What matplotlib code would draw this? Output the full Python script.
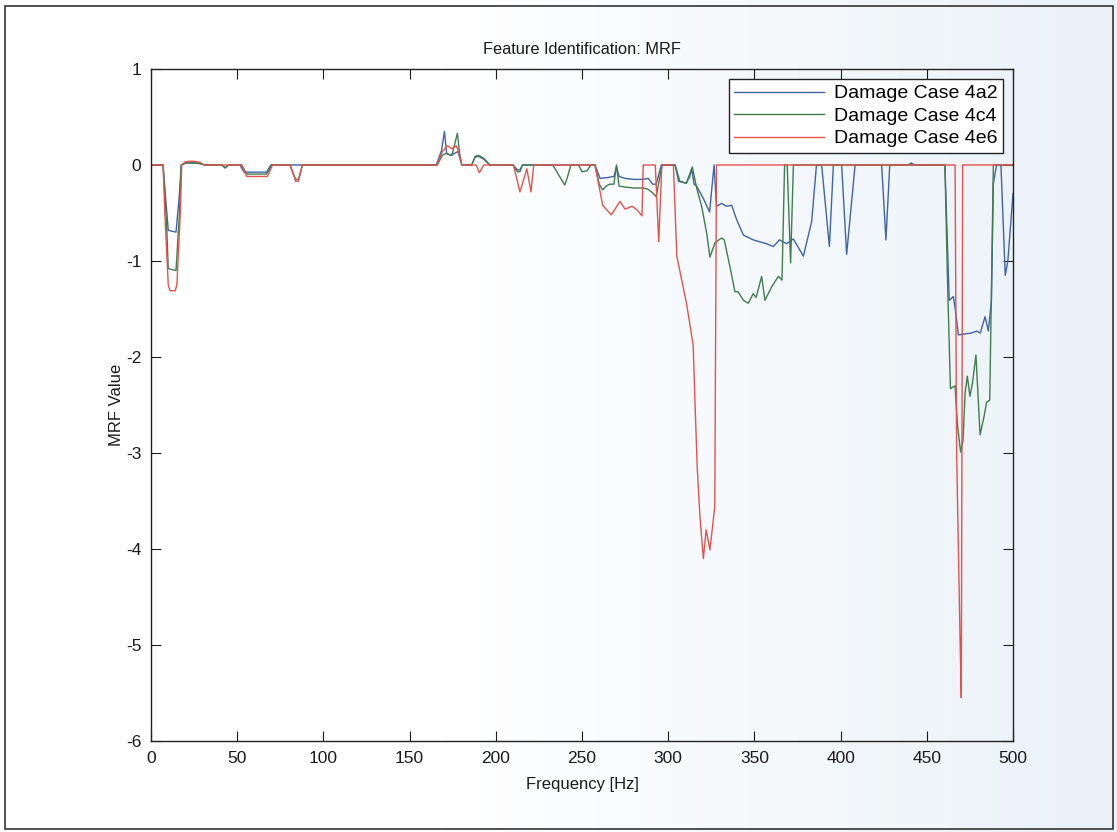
import numpy as np
import matplotlib
matplotlib.use("Agg")
import matplotlib.pyplot as plt
from matplotlib.patches import Rectangle

# MRF curves, (frequency [Hz], MRF value) pairs per damage case
case_4a2 = [
    (0, 0), (7, 0), (8.5, -0.35), (10, -0.68), (14.5, -0.70), (16.5, -0.30), (17.5, 0),
    (20, 0.02), (23, 0.025), (28, 0.02), (31, 0), (41, 0), (43, -0.03), (45, 0),
    (51.5, 0), (54, -0.075), (67, -0.075), (69.5, 0),
    (165.5, 0), (168.5, 0.15), (170.2, 0.35), (171.5, 0.12), (174, 0.10), (176, 0.12),
    (178, 0.14), (180.3, 0), (186, 0), (188, 0.08), (190, 0.09), (193, 0.06), (196.5, 0),
    (210, 0), (212.5, -0.05), (214, -0.05), (215.5, 0),
    (257.5, 0), (260.5, -0.14), (265, -0.13), (268.5, -0.12), (270, -0.02), (271.5, -0.12),
    (275, -0.14), (280, -0.15), (285, -0.15), (288.5, -0.14), (291, -0.20), (293, -0.20),
    (296, 0), (304, 0), (306, -0.17), (310.5, -0.19), (312.5, -0.12), (313.6, -0.04),
    (315, -0.20), (316.5, -0.22), (320.4, -0.35), (324, -0.49), (326.6, 0), (328, -0.43),
    (331, -0.40), (333.7, -0.43), (336.8, -0.42), (339.7, -0.57), (343.6, -0.73),
    (349.3, -0.78), (353, -0.80), (357, -0.82), (361, -0.85), (364.5, -0.78), (368.7, -0.82),
    (372.6, -0.77), (378.4, -0.95), (383.2, -0.59), (386, 0), (389, 0), (393.5, -0.85),
    (395.8, 0), (400.6, 0), (403.5, -0.93), (408.4, 0), (423.8, 0), (426.3, -0.78),
    (428.5, 0), (439, 0), (441, 0.02), (443, 0), (460.5, 0), (463, -1.41), (465.4, -1.37),
    (466.5, -1.50), (468.3, -1.77), (472, -1.76), (476, -1.75), (479, -1.73), (481, -1.75),
    (483.8, -1.58), (485.7, -1.73), (487.5, -1.41), (488.6, -0.19), (490.5, 0), (493, 0),
    (495.5, -1.15), (497, -1.00), (500, -0.30),
]

case_4c4 = [
    (0, 0), (7, 0), (9, -0.60), (10, -1.08), (14.5, -1.10), (16.5, -0.50), (17.5, 0),
    (20, 0.02), (23, 0.02), (28, 0.015), (31, 0), (41, 0), (43, -0.03), (45, 0),
    (52.6, 0), (55.5, -0.095), (67, -0.095), (70, 0), (80.6, 0), (83.9, -0.15),
    (85.5, -0.15), (87.8, 0), (166, 0), (169, 0.10), (171, 0.12), (174.5, 0.10),
    (177.7, 0.33), (179, 0.12), (180.3, 0), (186, 0), (188, 0.09), (190, 0.10), (193, 0.07),
    (196.5, 0), (210, 0), (212.5, -0.07), (214, -0.07), (215.5, 0), (233, 0), (238, -0.15),
    (240, -0.21), (242, -0.10), (243.5, 0), (248, 0), (250, -0.07), (253, -0.06), (255, 0),
    (257.5, 0), (260, -0.20), (262, -0.26), (264, -0.22), (266, -0.20), (268.5, -0.20),
    (270, 0), (271.5, -0.22), (275, -0.23), (280, -0.24), (285, -0.24), (288, -0.25),
    (291, -0.29), (293, -0.33), (296.5, 0), (304, 0), (306.8, -0.17), (310.5, -0.19),
    (314, -0.02), (316.5, -0.24), (319.4, -0.43), (322.3, -0.71), (324.2, -0.96),
    (327.1, -0.81), (331, -0.76), (332.5, -0.78), (335.8, -1.06), (338.7, -1.32),
    (340.5, -1.32), (343.6, -1.41), (346.5, -1.44), (349.3, -1.34), (351, -1.38),
    (354.2, -1.16), (356.1, -1.41), (360, -1.27), (363.9, -1.16), (366, -1.20), (367.5, 0),
    (369, 0), (371, -1.02), (372.6, 0), (460.5, 0), (462, -1.20), (463.7, -2.33),
    (466.4, -2.30), (467.7, -2.69), (469.6, -2.99), (471, -2.87), (472.2, -2.38),
    (473.5, -2.20), (475, -2.41), (476.5, -2.27), (478.5, -1.98), (480.9, -2.81),
    (483.2, -2.62), (484.7, -2.47), (486.5, -2.45), (488.6, 0), (500, 0),
]

case_4e6 = [
    (0, 0), (7, 0), (8, -0.50), (10, -1.25), (11, -1.31), (14, -1.31), (15, -1.25),
    (17, -0.50), (17.8, 0), (20, 0.035), (24, 0.04), (28, 0.03), (31, 0), (52.6, 0),
    (55.5, -0.12), (67.5, -0.12), (70.5, 0), (80.6, 0), (83.9, -0.17), (85.5, -0.17),
    (87.8, 0), (166, 0), (169, 0.14), (172, 0.20), (174.4, 0.17), (177, 0.20), (178.5, 0.14),
    (180.3, 0), (188.6, 0), (190.5, -0.08), (193, 0), (210.2, 0), (214, -0.28), (218, -0.04),
    (220.4, -0.28), (222, 0), (257.5, 0), (262, -0.42), (265, -0.48), (267, -0.52),
    (272, -0.38), (275, -0.46), (279, -0.43), (282, -0.47), (284.8, -0.53), (285.5, 0),
    (292.5, 0), (294.5, -0.80), (296.3, 0), (303, 0), (305, -0.95), (310.7, -1.45),
    (314.5, -1.88), (315.5, -2.45), (316.8, -3.14), (318.4, -3.66), (320.4, -4.10),
    (322, -3.80), (324.2, -4.01), (327, -3.56), (328, 0), (466.4, 0), (467.3, -3.00),
    (469.3, -4.95), (470, -5.55), (470.8, 0), (500, 0),
]

series_labels = ["Damage Case 4a2", "Damage Case 4c4", "Damage Case 4e6"]
series_colors = ["#3f63a6", "#3f7d4c", "#e5524c"]
x_ticks = [0, 50, 100, 150, 200, 250, 300, 350, 400, 450, 500]
y_ticks = [1, 0, -1, -2, -3, -4, -5, -6]

plt.rcParams["font.family"] = ["Liberation Sans", "DejaVu Sans"]

fig = plt.figure(figsize=(11.17, 8.32), dpi=100)

# page tint: white on the left fading to a pale blue-grey on the right
bg = fig.add_axes([0, 0, 1, 1], zorder=-10)
t = np.clip((np.linspace(0, 1, 512) - 0.40) / 0.55, 0, 1)
c0 = np.array([1.0, 1.0, 1.0])
c1 = np.array([0.925, 0.952, 0.972])
grad = (c0[None, :] * (1 - t[:, None]) + c1[None, :] * t[:, None])[None, :, :]
bg.imshow(grad, aspect="auto", extent=[0, 1, 0, 1])
bg.set_axis_off()

# outer figure frame
fig.patches.append(Rectangle((0.0045, 0.004), 0.992, 0.989, transform=fig.transFigure,
                             fill=False, edgecolor="#333333", linewidth=1.2))

ax = fig.add_axes([0.1352, 0.1094, 0.7717, 0.8077])
ax.set_facecolor("none")

for data, lab, col in zip([case_4a2, case_4c4, case_4e6], series_labels, series_colors):
    f, v = np.array(data).T
    ax.plot(f, v, color=col, linewidth=1.0, label=lab)

ax.set_xlim(0, 500)
ax.set_ylim(-6, 1)
ax.set_xticks(x_ticks)
ax.set_yticks(y_ticks)
ax.set_xticklabels([str(x) for x in x_ticks])
ax.set_yticklabels([str(y) for y in y_ticks])
ax.tick_params(direction="in", top=True, right=True, length=7, width=0.8,
               labelsize=12.5, pad=7, colors="#1a1a1a")
for s in ax.spines.values():
    s.set_linewidth(1.0)
    s.set_color("#222222")

ax.set_title("Feature Identification: MRF", fontsize=11.8, pad=11, color="#1a1a1a")
ax.set_xlabel("Frequency [Hz]", fontsize=12, labelpad=8, color="#1a1a1a")
ax.set_ylabel("MRF Value", fontsize=12, labelpad=1, color="#1a1a1a")

leg = ax.legend(loc="upper right", bbox_to_anchor=(0.9884, 0.9851), borderaxespad=0.0,
                fancybox=False, edgecolor="#222222", framealpha=1, fontsize=14,
                handlelength=4.6, handletextpad=0.5, labelspacing=0.25,
                borderpad=0.3)
leg.get_frame().set_linewidth(1.0)

fig.savefig("out.png", dpi=100)
